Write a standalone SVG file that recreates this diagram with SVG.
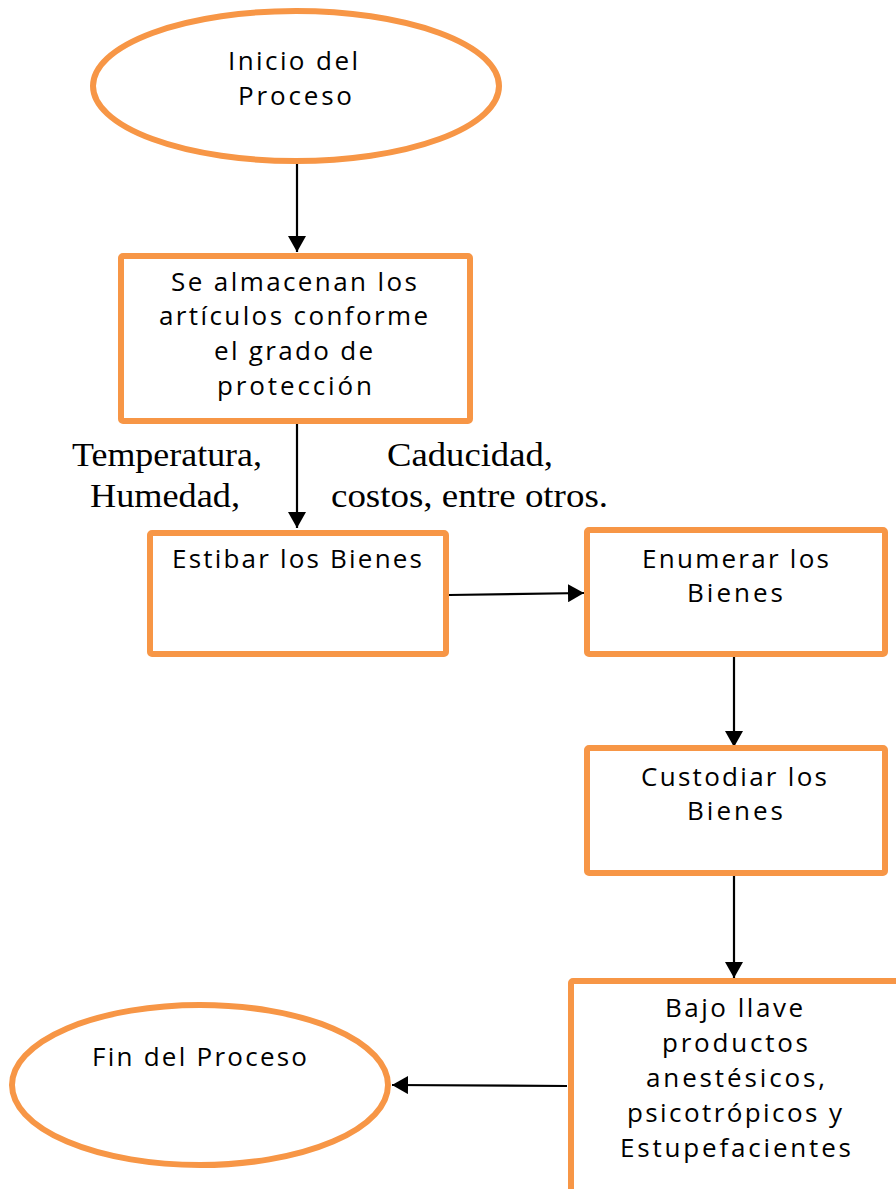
<svg xmlns="http://www.w3.org/2000/svg" width="896" height="1189" viewBox="0 0 896 1189">
  <style>
    .shape { fill: #FFFFFF; stroke: #F79646; stroke-width: 6; }
    .lbl { font-family: "Open Sans", Lato, "Liberation Sans", sans-serif; font-size: 26px; fill: #000000; }
    .note { font-family: "Liberation Serif", "Times New Roman", serif; font-size: 34px; fill: #000000; }
    .edge { stroke: #000000; stroke-width: 2.2; fill: none; marker-end: url(#arrow); }
  </style>
  <defs>
    <marker id="arrow" markerUnits="userSpaceOnUse" markerWidth="16" markerHeight="18" refX="16" refY="9" orient="auto">
      <path d="M0,0 L16,9 L0,18 Z" fill="#000000"/>
    </marker>
  </defs>
  <rect x="0" y="0" width="896" height="1189" fill="#FFFFFF"/>

  <!-- connectors -->
  <g id="connectors">
    <line class="edge" x1="297" y1="163" x2="297" y2="252"/>
    <line class="edge" x1="297" y1="424" x2="297" y2="528"/>
    <line class="edge" x1="449" y1="595" x2="584" y2="593"/>
    <line class="edge" x1="734" y1="657" x2="734" y2="747"/>
    <line class="edge" x1="734" y1="876" x2="734" y2="978"/>
    <line class="edge" x1="567" y1="1086" x2="392" y2="1085"/>
  </g>

  <g id="inicio">
    <ellipse class="shape" cx="296" cy="86" rx="203" ry="75" stroke-width="5"/>
    <text class="lbl" x="228" y="70" textLength="130" lengthAdjust="spacing">Inicio del</text>
    <text class="lbl" x="238" y="105" textLength="114" lengthAdjust="spacing">Proceso</text>
  </g>

  <g id="almacenar">
    <rect class="shape" x="121" y="256" width="349" height="165" rx="2"/>
    <text class="lbl" x="171" y="291" textLength="246" lengthAdjust="spacing">Se almacenan los</text>
    <text class="lbl" x="159" y="325" textLength="269" lengthAdjust="spacing">artículos conforme</text>
    <text class="lbl" x="214" y="360" textLength="159" lengthAdjust="spacing">el grado de</text>
    <text class="lbl" x="217" y="395" textLength="155" lengthAdjust="spacing">protección</text>
  </g>

  <g id="notas">
    <text class="note" x="72" y="466" textLength="190" lengthAdjust="spacingAndGlyphs">Temperatura,</text>
    <text class="note" x="90" y="507" textLength="150" lengthAdjust="spacingAndGlyphs">Humedad,</text>
    <text class="note" x="387" y="466" textLength="166" lengthAdjust="spacingAndGlyphs">Caducidad,</text>
    <text class="note" x="331" y="507" textLength="277" lengthAdjust="spacingAndGlyphs">costos, entre otros.</text>
  </g>

  <g id="estibar">
    <rect class="shape" x="150" y="533" width="296" height="121" rx="2"/>
    <text class="lbl" x="172" y="568" textLength="250" lengthAdjust="spacing">Estibar los Bienes</text>
  </g>

  <g id="enumerar">
    <rect class="shape" x="587" y="530" width="298" height="124" rx="2"/>
    <text class="lbl" x="642" y="568" textLength="187" lengthAdjust="spacing">Enumerar los</text>
    <text class="lbl" x="687" y="602" textLength="96" lengthAdjust="spacing">Bienes</text>
  </g>

  <g id="custodiar">
    <rect class="shape" x="587" y="748" width="298" height="125" rx="2"/>
    <text class="lbl" x="641" y="786" textLength="186" lengthAdjust="spacing">Custodiar los</text>
    <text class="lbl" x="687" y="820" textLength="96" lengthAdjust="spacing">Bienes</text>
  </g>

  <g id="bajo-llave">
    <rect class="shape" x="571" y="981" width="340" height="260" rx="2" stroke-width="7"/>
    <text class="lbl" x="665" y="1017" textLength="138" lengthAdjust="spacing">Bajo llave</text>
    <text class="lbl" x="662" y="1052" textLength="146" lengthAdjust="spacing">productos</text>
    <text class="lbl" x="646" y="1087" textLength="179" lengthAdjust="spacing">anestésicos,</text>
    <text class="lbl" x="627" y="1122" textLength="215" lengthAdjust="spacing">psicotrópicos y</text>
    <text class="lbl" x="620" y="1157" textLength="231" lengthAdjust="spacing">Estupefacientes</text>
  </g>

  <g id="fin">
    <ellipse class="shape" cx="200" cy="1085" rx="188" ry="80"/>
    <text class="lbl" x="92" y="1066" textLength="215" lengthAdjust="spacing">Fin del Proceso</text>
  </g>
</svg>
